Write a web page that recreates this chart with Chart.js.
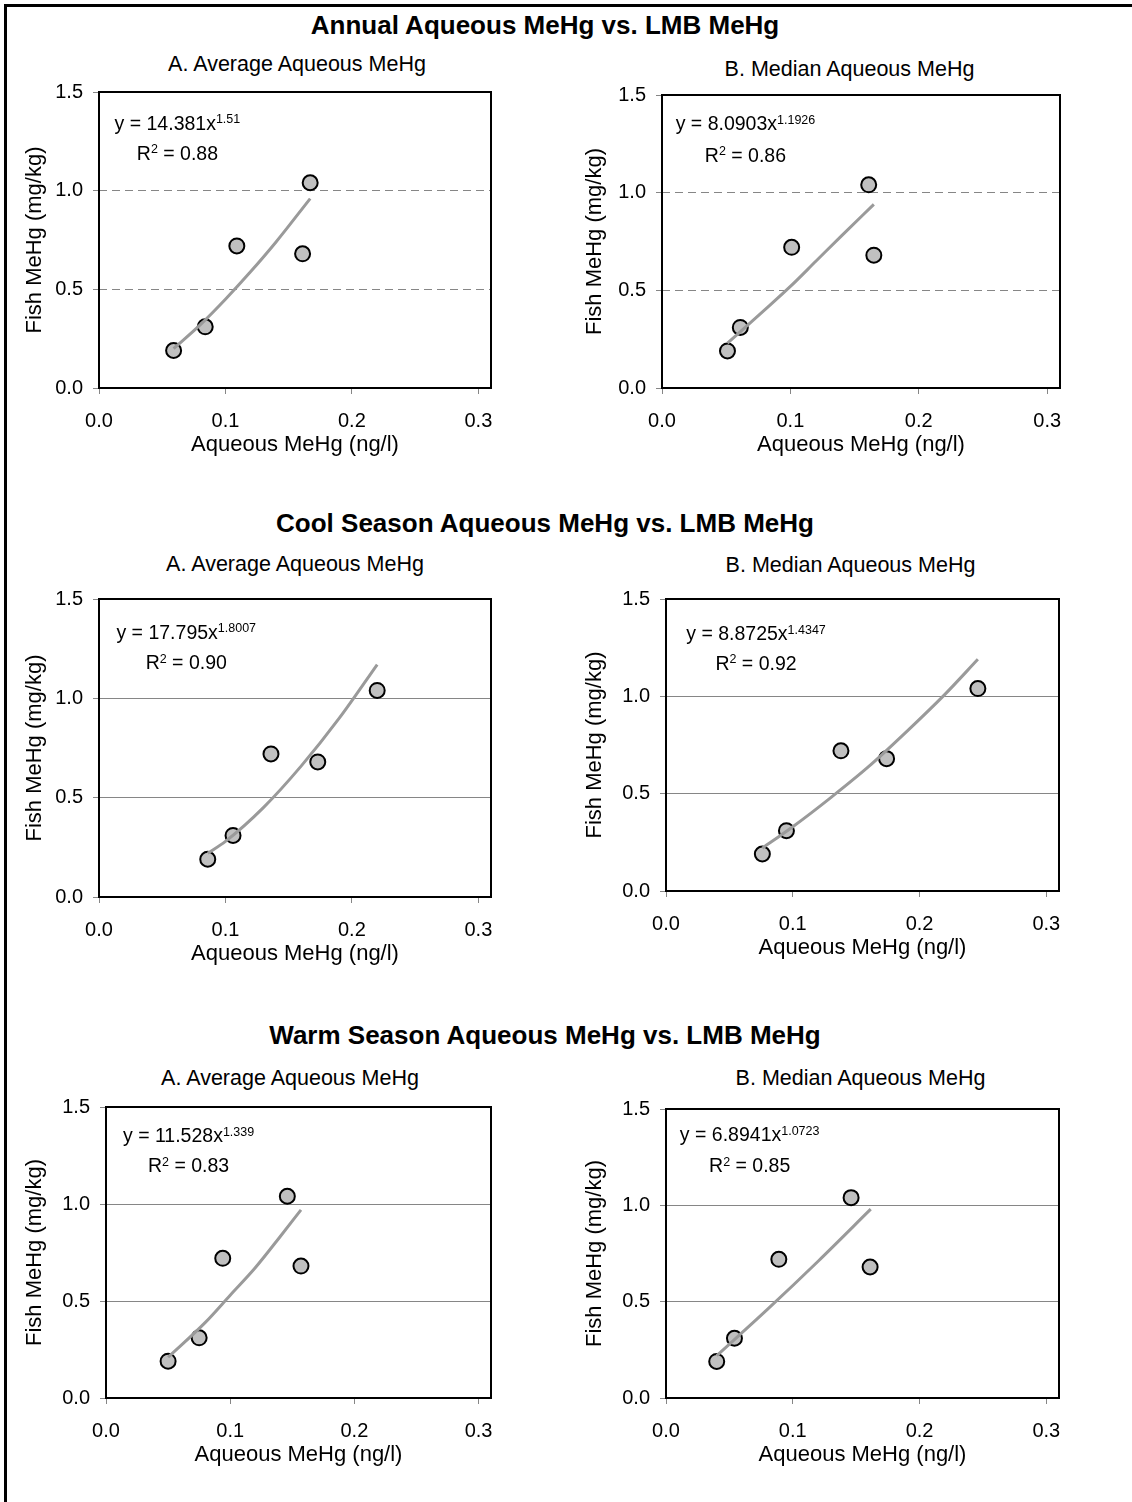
<!DOCTYPE html>
<html lang="en">
<head>
<meta charset="UTF-8">
<title>Aqueous MeHg vs. LMB MeHg</title>
<script src="https://cdn.jsdelivr.net/npm/chart.js@4.4.0/dist/chart.umd.min.js"></script>
<style>
  body { margin: 0; background: #fff; font-family: "Liberation Sans", Arial, sans-serif; color: #000; }
  #page { position: relative; width: 1132px; height: 1502px; overflow: hidden; background: #fff; }
  .frame { position: absolute; left: 4px; top: 4px; width: 1200px; height: 1600px; border-left: 3px solid #000; border-top: 3px solid #000; }
  .section { position: absolute; left: 0; width: 1090px; text-align: center; font-weight: bold; font-size: 26px; line-height: 30px; white-space: nowrap; }
  .sub { position: absolute; width: 400px; text-align: center; font-size: 21.5px; line-height: 24px; white-space: nowrap; }
  canvas { position: absolute; }
</style>
</head>
<body>
<div id="page">
  <div class="frame"></div>
</div>

<script>
// ---- data ----
const sectionTitles = [
  'Annual Aqueous MeHg vs. LMB MeHg',
  'Cool Season Aqueous MeHg vs. LMB MeHg',
  'Warm Season Aqueous MeHg vs. LMB MeHg'
];
const panelTitles = ['A. Average Aqueous MeHg', 'B. Median Aqueous MeHg'];
const xLabel = 'Aqueous MeHg (ng/l)';
const yLabel = 'Fish MeHg (mg/kg)';
const xTicks = [0, 0.1, 0.2, 0.3];
const yTicks = [0, 0.5, 1.0, 1.5];

// LMB MeHg at the five sites (same in every panel)
const fishMeHg = [0.19, 0.31, 0.72, 0.68, 1.04];

// aqueous MeHg at the same five sites
const annualAvg    = [0.059, 0.084, 0.109, 0.161, 0.167];
const annualMedian = [0.051, 0.061, 0.101, 0.165, 0.161];
const coolAvg      = [0.086, 0.106, 0.136, 0.173, 0.220];
const coolMedian   = [0.076, 0.095, 0.138, 0.174, 0.246];
const warmAvg      = [0.050, 0.075, 0.094, 0.157, 0.146];
const warmMedian   = [0.040, 0.054, 0.089, 0.161, 0.146];

// power trend lines
const annualAvgFitX    = [0.059, 0.08, 0.10, 0.12, 0.14, 0.167];
const annualAvgFitY    = [0.20, 0.32, 0.45, 0.59, 0.74, 0.96];
const annualMedianFitX = [0.051, 0.08, 0.10, 0.12, 0.14, 0.165];
const annualMedianFitY = [0.23, 0.40, 0.52, 0.65, 0.78, 0.94];
const coolAvgFitX      = [0.086, 0.10, 0.13, 0.16, 0.19, 0.220];
const coolAvgFitY      = [0.22, 0.28, 0.45, 0.66, 0.90, 1.17];
const coolMedianFitX   = [0.076, 0.10, 0.13, 0.16, 0.19, 0.22, 0.246];
const coolMedianFitY   = [0.22, 0.33, 0.48, 0.64, 0.82, 1.01, 1.19];
const warmAvgFitX      = [0.050, 0.08, 0.10, 0.12, 0.14, 0.157];
const warmAvgFitY      = [0.21, 0.39, 0.53, 0.67, 0.83, 0.97];
const warmMedianFitX   = [0.040, 0.08, 0.12, 0.1615];
const warmMedianFitY   = [0.22, 0.46, 0.71, 0.98];

const fitCoef = ['14.381', '8.0903', '17.795', '8.8725', '11.528', '6.8941'];
const fitExp  = ['1.51', '1.1926', '1.8007', '1.4347', '1.339', '1.0723'];
const fitR2   = ['0.88', '0.86', '0.90', '0.92', '0.83', '0.85'];

// ---- layout ----
const FONT = '"Liberation Sans", Arial, sans-serif';
Chart.defaults.font.family = FONT;
Chart.defaults.color = '#000';

const sectionTops = [10, 508, 1020];
// chart area [left, top, right, bottom], subtitle centre/middle, label anchor (data units)
const panels = [
  { aq: annualAvg,    fx: annualAvgFitX,    fy: annualAvgFitY,    area: [99, 90, 491, 388],    sub: [297, 64],     lab: [0.062, 1.336, 1.185] },
  { aq: annualMedian, fx: annualMedianFitX, fy: annualMedianFitY, area: [662, 93, 1060, 388],  sub: [849.5, 69],   lab: [0.065, 1.347, 1.187] },
  { aq: coolAvg,      fx: coolAvgFitX,      fy: coolAvgFitY,      area: [99, 597, 491, 897],   sub: [295, 563.5],  lab: [0.069, 1.327, 1.173] },
  { aq: coolMedian,   fx: coolMedianFitX,   fy: coolMedianFitY,   area: [666, 597, 1059, 891], sub: [850.5, 565],  lab: [0.071, 1.317, 1.164] },
  { aq: warmAvg,      fx: warmAvgFitX,      fy: warmAvgFitY,      area: [106, 1105, 491, 1398], sub: [290, 1077.5], lab: [0.0665, 1.347, 1.191] },
  { aq: warmMedian,   fx: warmMedianFitX,   fy: warmMedianFitY,   area: [666, 1107, 1059, 1398], sub: [860.5, 1078], lab: [0.066, 1.36, 1.20] }
];

const page = document.getElementById('page');

sectionTitles.forEach((t, i) => {
  const d = document.createElement('div');
  d.className = 'section';
  d.style.top = sectionTops[i] + 'px';
  d.textContent = t;
  page.appendChild(d);
});

// draws text pieces centred on cx, superscripts raised
function drawRun(ctx, cx, cy, parts) {
  const big = '19.5px ' + FONT;
  const small = '12.5px ' + FONT;
  ctx.save();
  ctx.fillStyle = '#000';
  ctx.textBaseline = 'middle';
  ctx.textAlign = 'left';
  const widths = parts.map(([t, sup]) => { ctx.font = sup ? small : big; return ctx.measureText(t).width; });
  let x = cx - widths.reduce((s, w) => s + w, 0) / 2;
  parts.forEach(([t, sup], i) => {
    ctx.font = sup ? small : big;
    ctx.fillText(t, x, sup ? cy - 4.5 : cy);
    x += widths[i];
  });
  ctx.restore();
}

// plot frame + regression label
const fitLabel = {
  id: 'fitLabel',
  beforeDatasetsDraw(chart) {
    const { ctx, chartArea: a } = chart;
    ctx.save();
    ctx.strokeStyle = '#000';
    ctx.lineWidth = 2;
    ctx.strokeRect(a.left, a.top, a.right - a.left, a.bottom - a.top);
    ctx.restore();
  },
  afterDatasetsDraw(chart, args, o) {
    const { ctx, scales } = chart;
    const cx = scales.x.getPixelForValue(o.x);
    drawRun(ctx, cx, scales.y.getPixelForValue(o.eqY), [['y = ' + o.coef + 'x', false], [o.exp, true]]);
    drawRun(ctx, cx, scales.y.getPixelForValue(o.r2Y), [['R', false], ['2', true], [' = ' + o.r2, false]]);
  }
};

panels.forEach((p, i) => {
  const col = i % 2;
  const row = Math.floor(i / 2);
  const [L, T, R, B] = p.area;
  const cl = col ? 560 : 0;
  const ct = T - 20;
  const w = R + 20 - cl;
  const h = B + 70 - ct;

  const sub = document.createElement('div');
  sub.className = 'sub';
  sub.style.left = (p.sub[0] - 200) + 'px';
  sub.style.top = (p.sub[1] - 12) + 'px';
  sub.textContent = panelTitles[col];
  page.appendChild(sub);

  const canvas = document.createElement('canvas');
  canvas.width = w;
  canvas.height = h;
  canvas.style.left = cl + 'px';
  canvas.style.top = ct + 'px';
  canvas.style.width = w + 'px';
  canvas.style.height = h + 'px';
  page.appendChild(canvas);

  const gridCol = '#868686';
  new Chart(canvas.getContext('2d'), {
    type: 'scatter',
    data: {
      datasets: [
        {
          label: 'Power fit',
          data: p.fx.map((x, k) => ({ x: x, y: p.fy[k] })),
          showLine: true,
          borderColor: '#9a9a9a',
          borderWidth: 3,
          pointRadius: 0,
          cubicInterpolationMode: 'monotone',
          order: 0
        },
        {
          label: 'Sites',
          data: p.aq.map((x, k) => ({ x: x, y: fishMeHg[k] })),
          backgroundColor: '#c0c0c0',
          borderColor: '#000',
          borderWidth: 2,
          pointRadius: 7.5,
          order: 1
        }
      ]
    },
    options: {
      responsive: false,
      animation: false,
      devicePixelRatio: 1,
      layout: { padding: { left: 22, right: 20, top: 20, bottom: 0 } },
      plugins: {
        legend: { display: false },
        tooltip: { enabled: false },
        fitLabel: { x: p.lab[0], eqY: p.lab[1], r2Y: p.lab[2], coef: fitCoef[i], exp: fitExp[i], r2: fitR2[i] }
      },
      scales: {
        x: {
          type: 'linear',
          min: 0,
          max: 0.31,
          afterBuildTicks: s => { s.ticks = xTicks.map(v => ({ value: v })); },
          afterFit: s => { s.height = 70; },
          ticks: { padding: 15, maxRotation: 0, autoSkip: false, font: { size: 20 }, callback: v => v.toFixed(1) },
          grid: { drawOnChartArea: false, drawTicks: true, tickLength: 6, tickColor: gridCol },
          border: { display: false },
          title: { display: true, text: xLabel, font: { size: 22 }, padding: 0 }
        },
        y: {
          min: 0,
          max: 1.5,
          afterBuildTicks: s => { s.ticks = yTicks.map(v => ({ value: v })); },
          afterFit: s => { s.width = L - cl - 22; },
          ticks: { padding: 10, autoSkip: false, font: { size: 20 }, callback: v => v.toFixed(1) },
          grid: {
            color: c => (c.tick && (c.tick.value === 0 || c.tick.value === 1.5)) ? 'rgba(0,0,0,0)' : gridCol,
            lineWidth: 1,
            drawTicks: true,
            tickLength: 6,
            tickColor: gridCol
          },
          border: { display: false, dash: row === 0 ? [8, 5] : [] },
          title: { display: true, text: yLabel, font: { size: 22 }, padding: 0 }
        }
      }
    },
    plugins: [fitLabel]
  });
});
</script>
</body>
</html>
